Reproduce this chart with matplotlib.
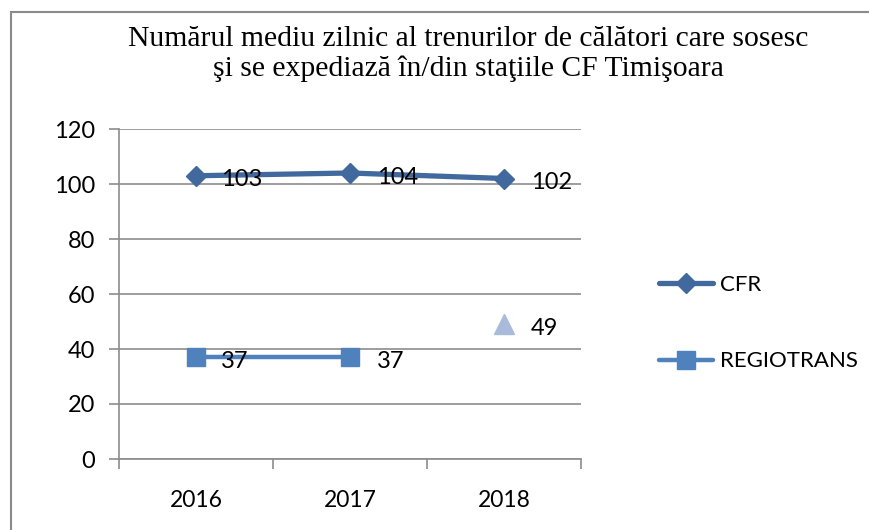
import matplotlib.pyplot as plt
from matplotlib.lines import Line2D
from matplotlib.patches import Rectangle

years = ["2016", "2017", "2018"]
cfr = [103, 104, 102]
regiotrans = [37, 37]
third = [49]

title = ("Numărul mediu zilnic al trenurilor de călători care sosesc\n"
         "şi se expediază în/din staţiile CF Timişoara")

c_cfr = "#41699E"
c_reg = "#4F81BD"
c_tri = "#A9BADA"
grid_c = "#8C8C8C"

plt.rcParams["font.family"] = ["Lato", "DejaVu Sans"]

fig = plt.figure(figsize=(8.69, 5.30), dpi=100)
ax = fig.add_axes([119 / 869, 1 - 459 / 530, 462 / 869, 330 / 530])

x = list(range(len(years)))
ax.plot(x, cfr, color=c_cfr, lw=3.8, marker="D", ms=10.5, solid_capstyle="round")
ax.plot(x[:2], regiotrans, color=c_reg, lw=3.2, marker="s", ms=13.5)
ax.plot(x[2:], third, color=c_tri, lw=0, marker="^", ms=14)

for xs, ys in [(x, cfr), (x[:2], regiotrans), (x[2:], third)]:
    for xi, yi in zip(xs, ys):
        dx = 18 if xi == 0 else 19.5
        ax.annotate(str(yi), (xi, yi), xytext=(dx, -3), textcoords="offset points",
                    ha="left", va="center", fontsize=17)

ax.set_xlim(-0.5, 2.5)
ax.set_ylim(0, 120)
ax.set_yticks(range(0, 121, 20))
ax.set_xticks(x)
ax.set_xticklabels(years)
ax.set_xticks([-0.5, 0.5, 1.5, 2.5], minor=True)
ax.tick_params(axis="x", which="major", length=0, pad=22, labelsize=16.5)
ax.tick_params(axis="x", which="minor", length=7, color=grid_c, width=1.2)
ax.tick_params(axis="y", length=7, color=grid_c, width=1.2, labelsize=17, pad=10)
ax.grid(axis="y", color=grid_c, lw=1.2)
ax.set_axisbelow(True)
for s in ["top", "right"]:
    ax.spines[s].set_visible(False)
for s in ["left", "bottom"]:
    ax.spines[s].set_color(grid_c)
    ax.spines[s].set_linewidth(1.2)

fig.text(468 / 869, 1 - 54 / 530, title, ha="center", va="center",
         fontsize=21.3, family="Liberation Serif", linespacing=1.2)

handles = [
    Line2D([], [], color=c_cfr, lw=3.8, marker="D", ms=10.5, solid_capstyle="round"),
    Line2D([], [], color=c_reg, lw=3.2, marker="s", ms=13.5, solid_capstyle="round"),
]
fig.legend(handles, ["CFR", "REGIOTRANS"], loc="center left",
           bbox_to_anchor=(639 / 869, 1 - 323 / 530), frameon=False,
           fontsize=16, handlelength=2.45, labelspacing=2.55, handletextpad=0.3)

fig.patches.append(Rectangle((11 / 869, -0.1), 1.2, 1.1 - 12 / 530,
                             transform=fig.transFigure, fill=False,
                             edgecolor="#8A8A8A", lw=1.5))

fig.savefig("out.png", dpi=100)
